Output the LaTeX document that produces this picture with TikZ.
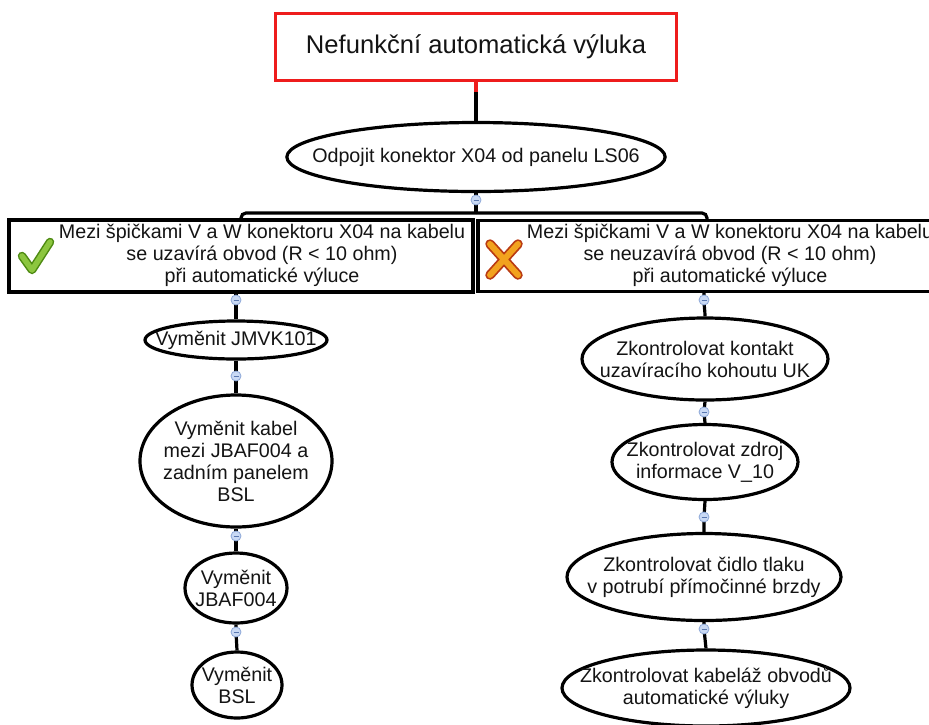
\documentclass[tikz,border=0pt]{standalone}
\usepackage{fontspec}
\setmainfont{Liberation Sans}
\usetikzlibrary{shapes.geometric}
\definecolor{txt}{HTML}{141414}
\definecolor{topred}{HTML}{EE1C1C}
\definecolor{btnfill}{HTML}{C9D9F4}
\definecolor{btndraw}{HTML}{8DA8D8}
\definecolor{btnmin}{HTML}{5A78B0}
\definecolor{chkdark}{HTML}{4E8A12}
\definecolor{chklight}{HTML}{8CC63F}
\definecolor{xdark}{HTML}{B93A12}
\definecolor{xlight}{HTML}{F2A21E}
\newcommand\bodyfont{\fontsize{19.7}{22}\selectfont}
\newcommand\titlefont{\fontsize{25.6}{28}\selectfont}
\tikzset{
  ell/.style={ellipse, draw, line width=3.2pt, inner sep=-30pt, align=center, font=\bodyfont, text=txt},
  boxnode/.style={rectangle, draw, line width=3.2pt, inner sep=0pt},
  boxtext/.style={align=center, font=\bodyfont, text=txt, inner sep=0pt},
  conn/.style={line width=3.2pt},
  btn/.style={circle, draw=btndraw, fill=btnfill, line width=0.8pt, minimum size=10pt, inner sep=0pt,
    path picture={\draw[btnmin, line width=0.9pt] ([xshift=-2.5pt]path picture bounding box.center) -- ([xshift=2.5pt]path picture bounding box.center);}}
}
\begin{document}
\begin{tikzpicture}[x=1pt,y=-1pt]
\useasboundingbox (0,0) rectangle (929,724);
\clip (0,0) rectangle (929,724);
\fill[white] (0,0) rectangle (929,724);

% nodes
\node[rectangle, draw=topred, line width=3.2pt, minimum width=401pt, minimum height=67pt, inner sep=0pt,
      font=\titlefont, text=txt] (top) at (476,47) {Nefunkční automatická výluka};
\node[ell, minimum width=363pt, minimum height=69pt] (e1) at (476,157) {Odpojit konektor X04 od panelu LS06};

\node[boxnode, minimum width=464pt, minimum height=72pt] (lrect) at (241,256) {};
\node[boxnode, minimum width=458pt, minimum height=71pt] (rrect) at (707,256) {};
\node[boxtext] (ltext) at (262,255) {Mezi špičkami V a W konektoru X04 na kabelu\\se uzavírá obvod (R < 10 ohm)\\při automatické výluce};
\node[boxtext] (rtext) at (730,255) {Mezi špičkami V a W konektoru X04 na kabelu\\se neuzavírá obvod (R < 10 ohm)\\při automatické výluce};

\node[ell, minimum width=182pt, minimum height=38pt] (l1) at (236,340) {Vyměnit JMVK101};
\node[ell, minimum width=192pt, minimum height=132pt] (l2) at (236,461) {Vyměnit kabel\\mezi JBAF004 a\\zadním panelem\\BSL};
\node[ell, minimum width=102pt, minimum height=70pt] (l3) at (236,588) {Vyměnit\\JBAF004};
\node[ell, minimum width=90pt, minimum height=66pt] (l4) at (237,685) {Vyměnit\\BSL};

\node[ell, minimum width=246pt, minimum height=82pt] (r1) at (705,359) {Zkontrolovat kontakt\\uzavíracího kohoutu UK};
\node[ell, minimum width=186pt, minimum height=75pt] (r2) at (705,462) {Zkontrolovat zdroj\\informace V\_10};
\node[ell, minimum width=274pt, minimum height=87pt] (r3) at (704,577) {Zkontrolovat čidlo tlaku\\v potrubí přímočinné brzdy};
\node[ell, minimum width=288pt, minimum height=76pt] (r4) at (706,688) {Zkontrolovat kabeláž obvodů\\automatické výluky};

% collapse buttons (positions)
\coordinate (p0) at (476,200);
\coordinate (pl1) at (236,300);
\coordinate (pl2) at (236,376);
\coordinate (pl3) at (236,536);
\coordinate (pl4) at (236,632);
\coordinate (pr1) at (704,300);
\coordinate (pr2) at (704,412);
\coordinate (pr3) at (704,517);
\coordinate (pr4) at (704,629);
\coordinate (br) at (476,213);

% connectors
\draw[conn] (top.south) -- (e1.north);
\draw[topred, line width=3.2pt] (top.south) -- ++(0,10);
\draw[conn] (e1.south) -- (br);
\draw[conn, rounded corners=5pt] (br) -| (lrect.north);
\draw[conn, rounded corners=5pt] (br) -| (rrect.north);

\draw[conn] (pl1 |- lrect.south) -- (pl1) .. controls +(0,6) and +(0,-6) .. (l1.north);
\draw[conn] (l1.south) -- (pl2) -- (l2.north);
\draw[conn] (l2.south) -- (pl3) -- (l3.north);
\draw[conn] (l3.south) -- (pl4) -- (l4.north);

\draw[conn] (pr1 |- rrect.south) -- (pr1) .. controls +(0,6) and +(0,-6) .. (r1.north);
\draw[conn] (r1.south) -- (pr2) -- (r2.north);
\draw[conn] (r2.south) -- (pr3) -- (r3.north);
\draw[conn] (r3.south) -- (pr4) -- (r4.north);

% buttons on top
\node[btn] (c0) at (p0) {};
\node[btn] (cl1) at (pl1) {};
\node[btn] (cl2) at (pl2) {};
\node[btn] (cl3) at (pl3) {};
\node[btn] (cl4) at (pl4) {};
\node[btn] (cr1) at (pr1) {};
\node[btn] (cr2) at (pr2) {};
\node[btn] (cr3) at (pr3) {};
\node[btn] (cr4) at (pr4) {};

% icons
\draw[chkdark, line width=8.5pt, line cap=round, line join=round] (22,256) -- (32,270) -- (50,242);
\draw[chklight, line width=5.5pt, line cap=round, line join=round] (22,256) -- (32,270) -- (50,242);
\draw[xdark, line width=9.5pt, line cap=round] (490,244) -- (518,275) (518,244) -- (490,275);
\draw[xlight, line width=6pt, line cap=round] (490,244) -- (518,275) (518,244) -- (490,275);
\end{tikzpicture}
\end{document}
